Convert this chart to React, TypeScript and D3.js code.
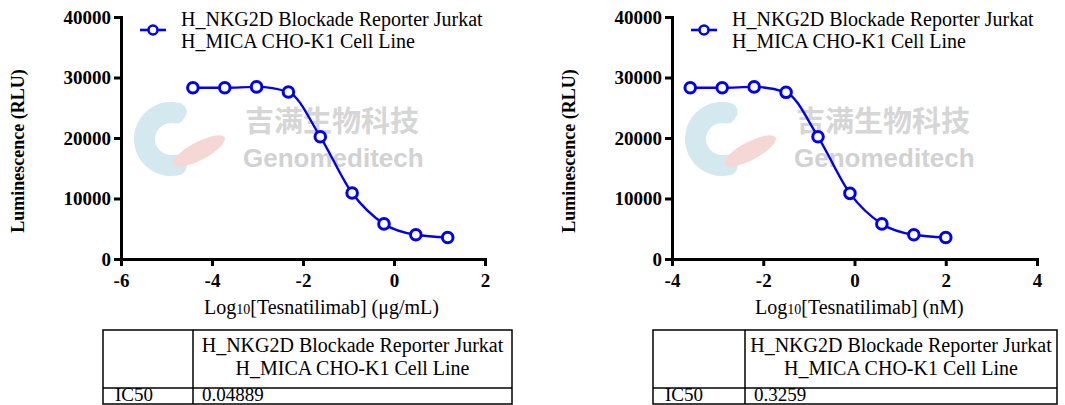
import * as d3 from "d3";
import { useEffect, useRef } from "react";

// log10 dose, lowest first
const logDoseUgPerMl = [-4.42, -3.72, -3.02, -2.32, -1.62, -0.92, -0.22, 0.48, 1.18];
const logDoseNM = [-3.6, -2.9, -2.2, -1.5, -0.8, -0.1, 0.6, 1.3, 2.0];
const rluUgPanel = [28300, 28300, 28450, 27600, 20200, 10900, 5800, 4000, 3550];
const rluNMPanel = [28300, 28300, 28450, 27550, 20200, 10850, 5800, 4000, 3550];
const xTicksUg = [-6, -4, -2, 0, 2];
const xTicksNM = [-4, -2, 0, 2, 4];
const yTicks = [0, 10000, 20000, 30000, 40000];
const seriesName = ["H_NKG2D Blockade Reporter Jurkat", "H_MICA CHO-K1 Cell Line"];
const ic50Values = ["0.04889", "0.3259"];
const unitLabels = ["(\u03bcg/mL)", "(nM)"];

const SERIF = "'Liberation Serif', 'Times New Roman', serif";
const BLUE = "#0000f0";

type Panel = {
  ax: number;
  xEnd: number;
  domain: [number, number];
  ticks: number[];
  doses: number[];
  values: number[];
  unit: string;
  ic50: string;
  table: { left: number; right: number; col: number };
};

function drawPanel(root: d3.Selection<SVGSVGElement, unknown, null, undefined>, p: Panel) {
  const g = root.append("g");
  const x = d3.scaleLinear().domain(p.domain).range([p.ax, p.xEnd]);
  const y = d3.scaleLinear().domain([0, 40000]).range([259, 17]);

  // watermark
  const wm = g.append("g");
  wm.append("path")
    .attr("transform", `translate(${p.ax + 50},139)`)
    .attr(
      "d",
      d3.arc().cornerRadius(9)({
        innerRadius: 16,
        outerRadius: 37,
        startAngle: Math.PI * 0.82,
        endAngle: Math.PI * 2.18,
      } as any) as string
    )
    .attr("fill", "#d3e8ef");
  wm.append("ellipse")
    .attr("transform", `translate(${p.ax + 78},151) rotate(-28)`)
    .attr("rx", 29)
    .attr("ry", 9)
    .attr("fill", "#f5d8d6");
  wm.append("text")
    .attr("x", p.ax + 124)
    .attr("y", 132)
    .attr("font-family", "'Noto Sans CJK SC', sans-serif")
    .attr("font-weight", "bold")
    .attr("font-size", 29)
    .attr("fill", "#d6d6d6")
    .text("吉满生物科技");
  wm.append("text")
    .attr("x", p.ax + 122)
    .attr("y", 167)
    .attr("font-family", "'Liberation Sans', Arial, sans-serif")
    .attr("font-weight", "bold")
    .attr("font-size", 26)
    .attr("fill", "#d2d2d2")
    .text("Genomeditech");

  // axes
  const yAxis = g
    .append("g")
    .attr("transform", `translate(${p.ax},0)`)
    .call(d3.axisLeft(y).tickValues(yTicks).tickSize(7).tickSizeOuter(0).tickPadding(3).tickFormat(d3.format("d")))
    .attr("font-family", SERIF)
    .attr("font-size", 19)
    .attr("font-weight", "bold");

  const xAxis = g
    .append("g")
    .attr("transform", "translate(0,259)")
    .call(d3.axisBottom(x).tickValues(p.ticks).tickSize(7).tickSizeOuter(0).tickPadding(8).tickFormat((d) => String(d)))
    .attr("font-family", SERIF)
    .attr("font-size", 19)
    .attr("font-weight", "bold");

  [yAxis, xAxis].forEach((a) => {
    a.select(".domain").attr("stroke-width", 3).attr("stroke-linecap", "square");
    a.selectAll(".tick line").attr("stroke-width", 3);
  });

  // axis titles
  g.append("text")
    .attr("transform", `translate(${p.ax - 97},151) rotate(-90)`)
    .attr("text-anchor", "middle")
    .attr("font-family", SERIF)
    .attr("font-weight", "bold")
    .attr("font-size", 18)
    .text("Luminescence (RLU)");

  const xt = g
    .append("text")
    .attr("x", p.ax + 83)
    .attr("y", 314)
    .attr("font-family", SERIF)
    .attr("font-size", 20);
  xt.append("tspan").text("Log");
  xt.append("tspan").attr("font-size", 14).text("10");
  xt.append("tspan").text(`[Tesnatilimab] ${p.unit}`);

  // fitted curve and points
  const pts = p.doses.map((d, i) => [d, p.values[i]] as [number, number]);
  const line = d3
    .line<[number, number]>()
    .x((d) => x(d[0]))
    .y((d) => y(d[1]))
    .curve(d3.curveMonotoneX);
  g.append("path").attr("d", line(pts)).attr("fill", "none").attr("stroke", BLUE).attr("stroke-width", 2.4);
  g.append("g")
    .selectAll("circle")
    .data(pts)
    .join("circle")
    .attr("cx", (d) => x(d[0]))
    .attr("cy", (d) => y(d[1]))
    .attr("r", 5.3)
    .attr("fill", "white")
    .attr("stroke", BLUE)
    .attr("stroke-width", 3);

  // legend
  const lg = g.append("g");
  lg.append("line")
    .attr("x1", p.ax + 19)
    .attr("x2", p.ax + 45)
    .attr("y1", 30)
    .attr("y2", 30)
    .attr("stroke", BLUE)
    .attr("stroke-width", 2.6);
  lg.append("circle").attr("cx", p.ax + 32).attr("cy", 30).attr("r", 4.5).attr("fill", "white").attr("stroke", BLUE).attr("stroke-width", 2.6);
  seriesName.forEach((s, i) => {
    lg.append("text")
      .attr("x", p.ax + 60)
      .attr("y", 26 + i * 22)
      .attr("font-family", SERIF)
      .attr("font-size", 20)
      .text(s);
  });

  // IC50 table
  const t = p.table;
  const tb = g.append("g").attr("stroke", "black").attr("stroke-width", 1.5).attr("fill", "none");
  tb.append("rect").attr("x", t.left).attr("y", 330).attr("width", t.right - t.left).attr("height", 74);
  tb.append("line").attr("x1", t.left).attr("x2", t.right).attr("y1", 388).attr("y2", 388);
  tb.append("line").attr("x1", t.col).attr("x2", t.col).attr("y1", 330).attr("y2", 404);
  seriesName.forEach((s, i) => {
    g.append("text")
      .attr("x", (t.col + t.right) / 2)
      .attr("y", 352 + i * 23)
      .attr("text-anchor", "middle")
      .attr("font-family", SERIF)
      .attr("font-size", 20)
      .text(s);
  });
  g.append("text").attr("x", t.left + 12).attr("y", 401).attr("font-family", SERIF).attr("font-size", 19).text("IC50");
  g.append("text").attr("x", t.col + 9).attr("y", 401).attr("font-family", SERIF).attr("font-size", 19).text(p.ic50);
}

export default function App() {
  const svgRef = useRef<SVGSVGElement>(null);

  useEffect(() => {
    const svg = d3.select(svgRef.current as SVGSVGElement);
    svg.selectAll("*").remove();
    drawPanel(svg, {
      ax: 121,
      xEnd: 485,
      domain: [-6, 2],
      ticks: xTicksUg,
      doses: logDoseUgPerMl,
      values: rluUgPanel,
      unit: unitLabels[0],
      ic50: ic50Values[0],
      table: { left: 103, right: 512, col: 193 },
    });
    drawPanel(svg, {
      ax: 672,
      xEnd: 1037,
      domain: [-4, 4],
      ticks: xTicksNM,
      doses: logDoseNM,
      values: rluNMPanel,
      unit: unitLabels[1],
      ic50: ic50Values[1],
      table: { left: 653, right: 1057, col: 745 },
    });
  }, []);

  return (
    <svg
      ref={svgRef}
      width={1065}
      height={405}
      style={{ position: "absolute", left: 0, top: 0, background: "white" }}
    />
  );
}
